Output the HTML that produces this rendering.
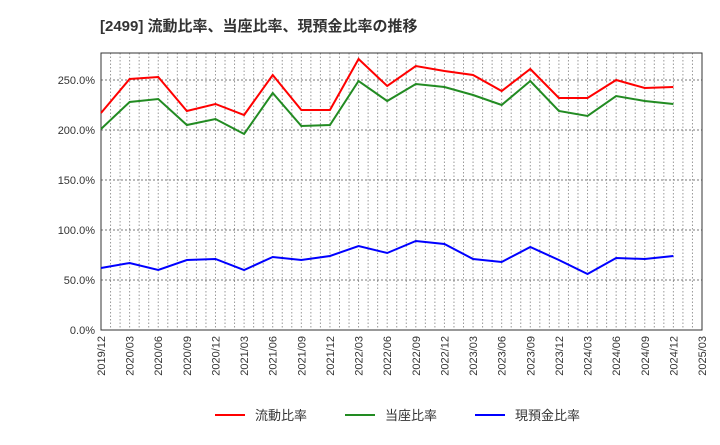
<!DOCTYPE html>
<html><head><meta charset="utf-8"><style>
body{margin:0;background:#fff;font-family:"Liberation Sans","Noto Sans CJK JP",sans-serif;}
</style></head><body>
<svg id="c" width="720" height="440" xmlns="http://www.w3.org/2000/svg">
<text x="100" y="31" font-size="15" font-weight="bold" fill="#333">[2499]  流動比率、当座比率、現預金比率の推移</text>
</svg>
<script>
const categories=["2019/12","2020/03","2020/06","2020/09","2020/12","2021/03","2021/06","2021/09","2021/12","2022/03","2022/06","2022/09","2022/12","2023/03","2023/06","2023/09","2023/12","2024/03","2024/06","2024/09","2024/12"];
const tickLabels=["2019/12","2020/03","2020/06","2020/09","2020/12","2021/03","2021/06","2021/09","2021/12","2022/03","2022/06","2022/09","2022/12","2023/03","2023/06","2023/09","2023/12","2024/03","2024/06","2024/09","2024/12","2025/03"];
const yTicks=[0,50,100,150,200,250];
const currentRatio=[217,251,253,219,226,215,255,220,220,271,244,264,259,255,239,261,232,232,250,242,243];
const quickRatio=[201,228,231,205,211,196,237,204,205,249,229,246,243,235,225,249,219,214,234,229,226];
const cashRatio=[62,67,60,70,71,60,73,70,74,84,77,89,86,71,68,83,70,56,72,71,74];
const svg=document.getElementById('c');const NS="http://www.w3.org/2000/svg";
const L=101,R=702,T=53,B=330;
const x=i=>L+(R-L)*i/(tickLabels.length-1);
const y=v=>B-(B-T)*v/277;
function mk(t,a,p){const e=document.createElementNS(NS,t);for(const k in a)e.setAttribute(k,a[k]);(p||svg).appendChild(e);return e;}
const months=(tickLabels.length-1)*3;
for(let m=1;m<months;m++){const xx=L+(R-L)*m/months;const g=mk('line',{x1:xx,x2:xx,y1:T,y2:B,stroke:'#999','stroke-width':1,'stroke-dasharray':'1.5,2'});

}
yTicks.forEach(v=>{if(v>0){const g=mk('line',{x1:L,x2:R,y1:y(v),y2:y(v),stroke:'#777','stroke-width':1,'stroke-dasharray':'2,2'});

}
const t=mk('text',{x:L-6,y:y(v)+4,'text-anchor':'end','font-size':11,fill:'#333'});t.textContent=v.toFixed(1)+'%';

});
tickLabels.forEach((s,i)=>{const t=mk('text',{x:0,y:0,'text-anchor':'end','font-size':11,fill:'#333',transform:`translate(${x(i)+4},${B+6}) rotate(-90)`});t.textContent=s;

});
const fr=mk('rect',{x:L,y:T,width:R-L,height:B-T,fill:'none',stroke:'#333','stroke-width':1});


const series=[[currentRatio,'#f00','流動比率','current-ratio-line'],[quickRatio,'#228b22','当座比率','quick-ratio-line'],[cashRatio,'#00f','現預金比率','cash-ratio-line']];
series.forEach(([d,c,n,id],k)=>{const p=mk('polyline',{points:d.map((v,i)=>x(i)+','+y(v)).join(' '),fill:'none',stroke:c,'stroke-width':2});


const lx=[215,345,475][k];
const g=mk('g',{});


mk('line',{x1:lx,x2:lx+30,y1:415,y2:415,stroke:c,'stroke-width':2},g);
const t=mk('text',{x:lx+40,y:420,'font-size':13,fill:'#333'},g);t.textContent=n;});
</script>
</body></html>
